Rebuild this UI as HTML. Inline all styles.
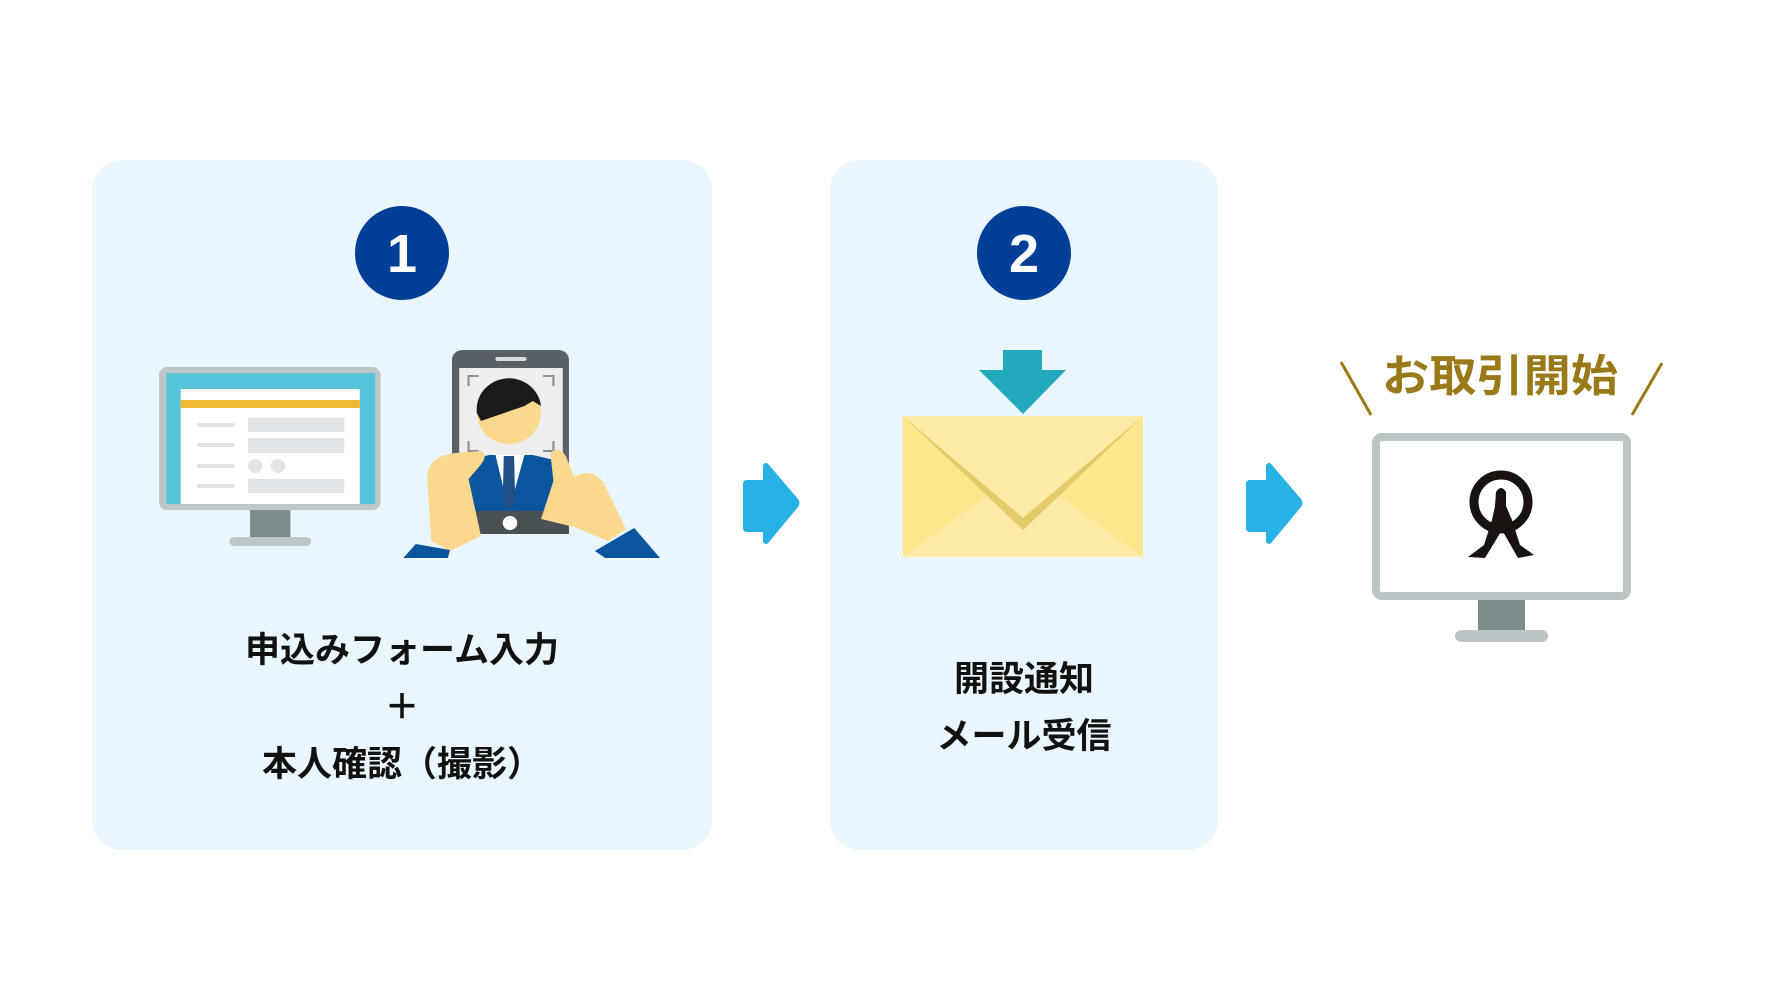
<!DOCTYPE html>
<html><head><meta charset="utf-8"><style>
body{margin:0;width:1792px;height:1008px;background:#fff;position:relative;overflow:hidden;font-family:"Liberation Sans","Noto Sans CJK JP",sans-serif}
.p{position:absolute;background:#e9f6fd;border-radius:30px}
.t{position:absolute;font-weight:bold;color:#111;font-size:35px;text-align:center;line-height:57px}
</style></head><body>
<div class="p" style="left:92px;top:160px;width:620px;height:690px"></div>
<div class="p" style="left:830px;top:160px;width:388px;height:690px"></div>
<svg width="1792" height="1008" style="position:absolute;left:0;top:0">
<circle cx="402" cy="253" r="47" fill="#003f98"/>
<text x="402" y="272" font-size="54" font-weight="bold" fill="#fff" text-anchor="middle" font-family="Liberation Sans">1</text>
<circle cx="1024" cy="253" r="47" fill="#003f98"/>
<text x="1024" y="272" font-size="54" font-weight="bold" fill="#fff" text-anchor="middle" font-family="Liberation Sans">2</text>
<!-- monitor 1 -->
<g transform="translate(159,367) scale(1.035,1.0) translate(-158,-367)">
<rect x="158" y="367" width="214" height="143" rx="8" fill="#bfc6c8"/>
<rect x="165" y="373" width="202" height="131" fill="#58c4dc"/>
<rect x="179" y="389" width="173" height="115" fill="#fff"/>
<rect x="179" y="400" width="173" height="8" fill="#efb936"/>
<g fill="#e0e4e6"><rect x="195" y="423" width="36" height="4"/><rect x="195" y="443" width="36" height="4"/><rect x="195" y="464" width="36" height="4"/><rect x="195" y="484" width="36" height="4"/>
<rect x="244" y="418" width="93" height="14"/><rect x="244" y="438" width="93" height="15"/><circle cx="251" cy="466" r="7"/><circle cx="273" cy="466" r="7"/><rect x="244" y="479" width="93" height="14"/></g>
<rect x="246" y="510" width="39" height="27" fill="#7f8a8b"/>
<rect x="226" y="537" width="79" height="9" rx="4.5" fill="#bfc6c8"/>
</g>
<!-- phone -->
<g transform="translate(452,350) scale(1.035,1.0) translate(-442,-349)">
<rect x="442" y="349" width="113" height="184" rx="10" fill="#5a6166"/>
<rect x="484" y="356" width="30" height="4" rx="2" fill="#ddd"/>
<rect x="449" y="367" width="100" height="143" fill="#eeeeee"/>
<g stroke="#8a8f92" stroke-width="2" fill="none"><path d="M458 385v-10h10M530 375h10v10M458 440v10h10M530 450h10v-10"/></g>
<path d="M449 510 L455 460 L478 454 L520 454 L545 460 L549 510Z" fill="#0a559e"/>
<path d="M484 454 L497 510 L512 454Z" fill="#fff"/>
<path d="M492 455 L502 455 L503 500 L497 510 L491 500Z" fill="#1f4f84"/>
<circle cx="497" cy="412" r="31" fill="#fad98e"/>
<path d="M466 412 A31 31 0 0 1 528 405 L520 400 L512 405 L470 420Z" fill="#1b1b1b"/>
<rect x="442" y="510" width="113" height="23" fill="#4a5155"/>
<circle cx="498" cy="522" r="7" fill="#fff"/>
<path d="M418 475 Q420 455 445 452 L470 450 Q478 454 468 466 L458 478 L470 535 L440 550 L422 540Z" fill="#fad98e"/>
<path d="M528 518 L540 480 L537 452 Q545 444 552 455 L560 476 Q575 466 588 481 L610 528 L593 540 L560 526Z" fill="#fad98e"/>
<path d="M395 557 L407 543 L440 549 L438 557Z" fill="#0a559e"/>
<path d="M580 550 L618 527 L643 557 L590 557Z" fill="#0a559e"/>
</g>
<!-- blue arrows -->
<path d="M747 480 L763 480 L763 465 Q766 461 769 465 L798 499 Q801 503 798 507 L769 542 Q766 546 763 542 L763 532 L747 532 Q743 532 743 528 L743 484 Q743 480 747 480Z" fill="#28b1e4"/>
<path d="M1250 480 L1266 480 L1266 465 Q1269 461 1272 465 L1301 499 Q1304 503 1301 507 L1272 542 Q1269 546 1266 542 L1266 532 L1250 532 Q1246 532 1246 528 L1246 484 Q1246 480 1250 480Z" fill="#28b1e4"/>
<!-- envelope -->
<rect x="1003" y="350" width="39" height="22" fill="#22a9bb"/>
<path d="M979 370 L1066 370 L1023 414Z" fill="#22a9bb"/>
<rect x="903" y="416" width="240" height="141" fill="#fde68c"/>
<path d="M903 557 L1023 470 L1143 557Z" fill="#feeba8"/>
<path d="M903 416 L1143 416 L1023 530Z" fill="#e2cc6a"/>
<path d="M903 416 L1143 416 L1023 518Z" fill="#feeba8"/>
<!-- right -->
<text x="1500" y="391" font-size="44" font-weight="bold" fill="#9a7a18" text-anchor="middle" textLength="236" lengthAdjust="spacingAndGlyphs" font-family="Liberation Sans, Noto Sans CJK JP, sans-serif">お取引開始</text>
<line x1="1341" y1="362" x2="1371" y2="415" stroke="#9a7a18" stroke-width="3"/>
<line x1="1662" y1="363" x2="1632" y2="415" stroke="#9a7a18" stroke-width="3"/>
<rect x="1376" y="437" width="251" height="159" rx="6" fill="#fff" stroke="#bcc5c6" stroke-width="8"/>
<rect x="1478" y="600" width="47" height="30" fill="#7f8a8b"/>
<rect x="1455" y="630" width="93" height="12" rx="6" fill="#bcc5c6"/>
<circle cx="1501" cy="502" r="27" fill="none" stroke="#1a1111" stroke-width="9"/>
<path d="M1496 492 Q1501 484 1506 492 L1506 506 L1512 520 L1520 545 L1534 555 L1518 558 L1502 530 L1485 558 L1468 557 L1484 545 L1492 520 L1495 506Z" fill="#1a1111"/>
</svg>
<div class="t" style="left:92px;width:620px;top:622px">申込みフォーム入力<br>＋<br>本人確認（撮影）</div>
<div class="t" style="left:830px;width:388px;top:651px">開設通知<br>メール受信</div>
</body></html>
